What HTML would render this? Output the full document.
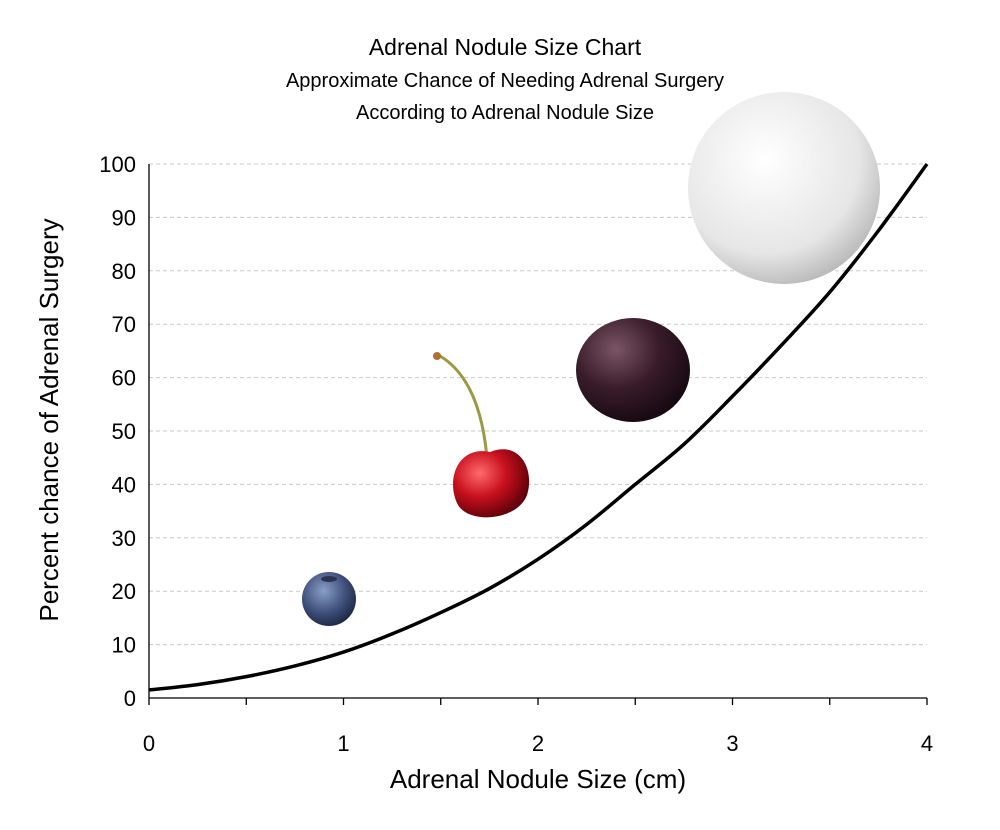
<!DOCTYPE html>
<html><head><meta charset="utf-8"><style>
body{margin:0;background:#fff;font-family:"Liberation Sans",sans-serif}
svg text{font-family:"Liberation Sans","DejaVu Sans",sans-serif}
</style></head><body>
<svg id="c" width="1000" height="825" viewBox="0 0 1000 825">
<defs>
<radialGradient id="gb" cx="40%" cy="35%" r="70%"><stop offset="0" stop-color="#8a9ec8"/><stop offset="0.6" stop-color="#3d4e78"/><stop offset="1" stop-color="#1c2440"/></radialGradient>
<radialGradient id="gc" cx="35%" cy="35%" r="70%"><stop offset="0" stop-color="#ff6a6a"/><stop offset="0.5" stop-color="#c8101e"/><stop offset="1" stop-color="#5a0008"/></radialGradient>
<radialGradient id="gp" cx="35%" cy="30%" r="75%"><stop offset="0" stop-color="#7a5566"/><stop offset="0.5" stop-color="#3a1c2a"/><stop offset="1" stop-color="#140810"/></radialGradient>
<radialGradient id="gg" cx="40%" cy="35%" r="70%"><stop offset="0" stop-color="#ffffff"/><stop offset="0.7" stop-color="#e6e6e6"/><stop offset="1" stop-color="#b5b5b5"/></radialGradient>
</defs>
<text x="505" y="55" text-anchor="middle" font-size="23">Adrenal Nodule Size Chart</text>
<text x="505" y="87" text-anchor="middle" font-size="20">Approximate Chance of Needing Adrenal Surgery</text>
<text x="505" y="119" text-anchor="middle" font-size="20">According to Adrenal Nodule Size</text>
<g id="grid"></g><g id="axes"></g>
<g><circle cx="329" cy="599" r="27" fill="url(#gb)"/><ellipse cx="329" cy="579" rx="8" ry="3" fill="#2a3350"/></g>
<g><path d="M487,458 Q480,380 440,356" stroke="#9a9a40" stroke-width="3" fill="none"/><circle cx="437" cy="356" r="4" fill="#b07030"/><path d="M490,452 C520,440 535,470 527,495 C518,520 470,525 458,505 C445,480 458,445 490,452Z" fill="url(#gc)"/></g>
<g><ellipse cx="633" cy="370" rx="57" ry="52" fill="url(#gp)"/></g>
<g><circle cx="784" cy="188" r="96" fill="url(#gg)"/></g>
<g id="series"></g>
<text x="538" y="788" text-anchor="middle" font-size="26">Adrenal Nodule Size (cm)</text>
<text transform="translate(58,420) rotate(-90)" text-anchor="middle" font-size="26">Percent chance of Adrenal Surgery</text>
</svg>
<script>
const xTicks=[0,1,2,3,4];
const yTicks=[0,10,20,30,40,50,60,70,80,90,100];
const sizes=[0,0.25,0.5,0.75,1,1.25,1.5,1.75,2,2.25,2.5,2.75,3,3.25,3.5,3.75,4];
const chance=[1.5,2.5,4,6,8.6,12,16,20.5,26,32.5,40,47.5,56.5,66,76,87.5,100];
const X=v=>149+v*(927-149)/4, Y=v=>698-v*(698-164)/100;
const NS="http://www.w3.org/2000/svg";
function mk(p,t,a){const e=document.createElementNS(NS,t);for(const k in a)e.setAttribute(k,a[k]);p.appendChild(e);return e;}
const grid=document.getElementById('grid'),axes=document.getElementById('axes'),ser=document.getElementById('series');
yTicks.forEach(v=>{
 if(v>0){const l=mk(grid,'line',{x1:149,x2:927,y1:Y(v),y2:Y(v),stroke:'#c8c8c8','stroke-dasharray':'4,3'});
 
 }
 const t=mk(axes,'text',{x:136,y:Y(v)+8,'text-anchor':'end','font-size':22});t.textContent=v;
 
 
});
xTicks.forEach(v=>{
 const t=mk(axes,'text',{x:X(v),y:751,'text-anchor':'middle','font-size':22});t.textContent=v;
 
 
});
for(let v=0;v<=4.001;v+=0.5){const l=mk(axes,'line',{x1:X(v),x2:X(v),y1:698,y2:705,stroke:'#000','stroke-width':1.3});
 
 }
const ya=mk(axes,'line',{x1:149,x2:149,y1:164,y2:698,stroke:'#000','stroke-width':1.3});


const xa=mk(axes,'line',{x1:149,x2:927,y1:698,y2:698,stroke:'#000','stroke-width':1.3});


const P=sizes.map((s,i)=>[X(s),Y(chance[i])]);
let d='M'+P[0][0]+','+P[0][1];
for(let i=0;i<P.length-1;i++){
 const p0=P[Math.max(i-1,0)],p1=P[i],p2=P[i+1],p3=P[Math.min(i+2,P.length-1)];
 d+='C'+(p1[0]+(p2[0]-p0[0])/6)+','+(p1[1]+(p2[1]-p0[1])/6)+' '+(p2[0]-(p3[0]-p1[0])/6)+','+(p2[1]-(p3[1]-p1[1])/6)+' '+p2[0]+','+p2[1];
}
const p=mk(ser,'path',{d:d,fill:'none',stroke:'#000','stroke-width':3.5,'stroke-linejoin':'round'});


</script>
</body></html>
